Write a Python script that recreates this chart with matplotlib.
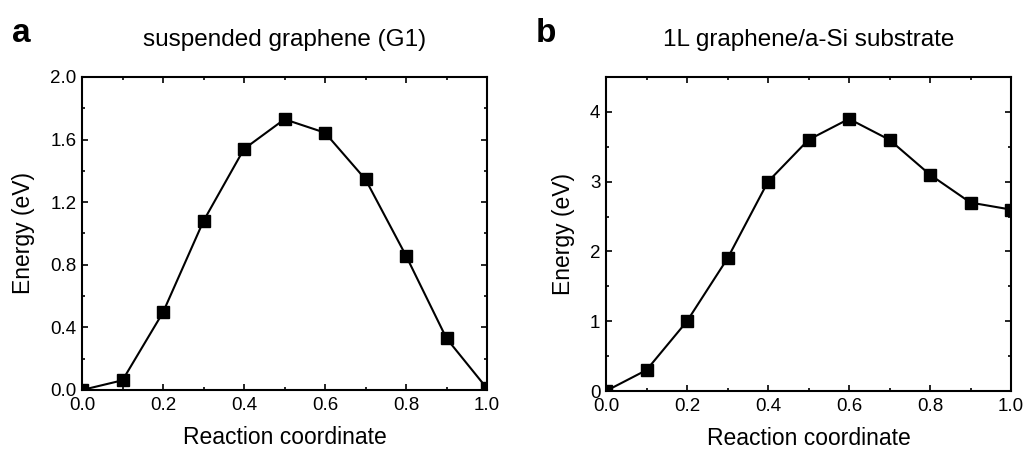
import matplotlib.pyplot as plt
from matplotlib.ticker import MultipleLocator

plt.rcParams['font.family'] = ['Liberation Sans', 'DejaVu Sans']

x_coord = [0.0, 0.1, 0.2, 0.3, 0.4, 0.5, 0.6, 0.7, 0.8, 0.9, 1.0]
energy_g1 = [0.0, 0.062, 0.496, 1.08, 1.54, 1.73, 1.644, 1.346, 0.858, 0.33, 0.01]
energy_asi = [0.0, 0.3, 1.0, 1.9, 3.0, 3.6, 3.9, 3.6, 3.1, 2.7, 2.6]

fig = plt.figure(figsize=(10.24, 4.5), dpi=100)
ax1 = fig.add_axes([82/1024, 60/450, 405/1024, 313/450])
ax2 = fig.add_axes([606/1024, 59/450, 405/1024, 314/450])

panels = [
    (ax1, energy_g1, "suspended graphene (G1)", "a", 2.0, 0.4, 0.2, "%.1f"),
    (ax2, energy_asi, "1L graphene/a-Si substrate", "b", 4.5, 1, 0.5, "%d"),
]

for ax, y, title, letter, ymax, ymaj, ymin, fmt in panels:
    ax.plot(x_coord, y, color='black', lw=1.5, marker='s', ms=8,
            markeredgecolor='black', markerfacecolor='black')
    ax.set_xlim(0, 1.0)
    ax.set_ylim(0, ymax)
    ax.xaxis.set_major_locator(MultipleLocator(0.2))
    ax.xaxis.set_minor_locator(MultipleLocator(0.1))
    ax.yaxis.set_major_locator(MultipleLocator(ymaj))
    ax.yaxis.set_minor_locator(MultipleLocator(ymin))
    ax.xaxis.set_major_formatter(plt.FormatStrFormatter("%.1f"))
    ax.yaxis.set_major_formatter(plt.FormatStrFormatter(fmt))
    ax.tick_params(which='both', direction='in', top=True, right=True,
                   labelsize=13.5, width=1.2)
    ax.tick_params(axis='x', pad=5)
    ax.tick_params(axis='y', pad=4)
    ax.tick_params(which='major', length=4)
    ax.tick_params(which='minor', length=2.5)
    for s in ax.spines.values():
        s.set_linewidth(1.5)
    ax.set_xlabel("Reaction coordinate", fontsize=16.5, labelpad=9)
    ax.set_ylabel("Energy (eV)", fontsize=16.5, labelpad=11)
    ax.set_title(title, fontsize=17.5, pad=22)
    ax.text(-0.173, 1.112, letter, transform=ax.transAxes, fontsize=24,
            fontweight='bold', va='baseline')

fig.savefig("out.png", dpi=100)
